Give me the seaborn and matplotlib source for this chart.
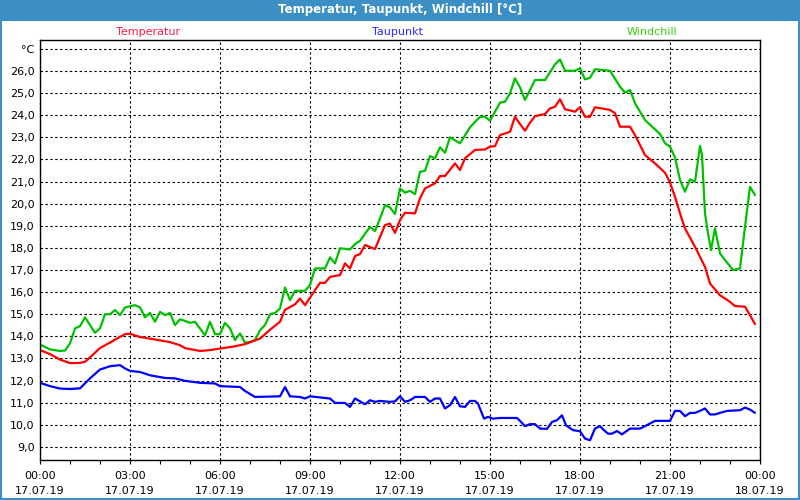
import matplotlib
matplotlib.use("Agg")
import matplotlib.pyplot as plt
import matplotlib.dates as mdates
from matplotlib.patches import Rectangle
from matplotlib.ticker import FixedLocator, FixedFormatter
import seaborn as sns
import pandas as pd

# ---------------- data (minutes after 17.07.19 00:00, °C) ----------------
temp_min = [0, 20, 40, 60, 80, 90, 100, 120, 140, 150, 170, 180, 200, 230, 260, 280, 290,
            320, 340, 360, 390, 410, 440, 460, 480, 490, 510, 520, 530, 550, 560, 570, 580,
            600, 610, 620, 630, 640, 650, 670, 690, 700, 710, 720, 730, 750, 760, 770, 790,
            800, 810, 830, 840, 850, 870, 890, 900, 910, 920, 940, 950, 960, 970, 980, 990,
            1010, 1020, 1030, 1040, 1050, 1070, 1080, 1090, 1100, 1110, 1120, 1140, 1150,
            1160, 1180, 1190, 1200, 1210, 1230, 1250, 1260, 1270, 1280, 1290, 1310, 1330,
            1340, 1360, 1380, 1390, 1410, 1420, 1430]
temp_val = [13.38, 13.2, 12.95, 12.79, 12.8, 12.85, 13.05, 13.47, 13.72, 13.85, 14.1, 14.12,
            13.97, 13.86, 13.74, 13.6, 13.47, 13.34, 13.38, 13.45, 13.55, 13.65, 13.9, 14.3,
            14.66, 15.2, 15.45, 15.71, 15.41, 16.09, 16.42, 16.42, 16.69, 16.77, 17.3, 17.07,
            17.63, 17.72, 18.13, 17.95, 19.03, 19.1, 18.68, 19.26, 19.59, 19.56, 20.24, 20.69,
            20.92, 21.25, 21.25, 21.82, 21.52, 22.05, 22.43, 22.45, 22.58, 22.6, 23.1, 23.25,
            23.93, 23.6, 23.3, 23.66, 23.96, 24.05, 24.31, 24.38, 24.72, 24.27, 24.16, 24.36,
            23.93, 23.93, 24.36, 24.32, 24.24, 24.09, 23.48, 23.48, 23.1, 22.65, 22.2, 21.82,
            21.4, 20.95, 20.31, 19.56, 18.88, 18.05, 17.14, 16.39, 15.86, 15.56, 15.37,
            15.34, 14.96, 14.55]

dew_min = [0, 20, 40, 60, 80, 100, 120, 140, 160, 170, 180, 200, 220, 250, 270, 290, 320,
           350, 360, 400, 410, 430, 480, 490, 500, 520, 530, 540, 580, 590, 610, 620, 630,
           650, 660, 670, 680, 700, 710, 720, 730, 740, 750, 770, 780, 790, 800, 810, 820,
           830, 840, 850, 860, 870, 876, 888, 896, 906, 920, 954, 960, 970, 980, 990, 1000,
           1014, 1024, 1034, 1044, 1052, 1066, 1080, 1090, 1100, 1110, 1120, 1126, 1136,
           1144, 1154, 1164, 1180, 1200, 1210, 1220, 1230, 1260, 1270, 1280, 1290, 1300,
           1310, 1320, 1330, 1340, 1350, 1360, 1374, 1400, 1410, 1420, 1430]
dew_val = [11.9, 11.75, 11.64, 11.62, 11.65, 12.1, 12.5, 12.65, 12.7, 12.55, 12.44, 12.39,
           12.24, 12.12, 12.1, 11.99, 11.9, 11.87, 11.75, 11.71, 11.53, 11.26, 11.29, 11.71,
           11.29, 11.26, 11.19, 11.29, 11.19, 10.99, 10.99, 10.81, 11.19, 10.93, 11.11,
           11.04, 11.08, 11.04, 11.06, 11.29, 11.04, 11.11, 11.26, 11.26, 11.04, 11.19,
           11.19, 10.74, 10.89, 11.26, 10.84, 10.81, 11.08, 11.08, 10.96, 10.28, 10.36,
           10.28, 10.31, 10.31, 10.18, 9.94, 10.03, 10.03, 9.83, 9.82, 10.13, 10.21, 10.43,
           9.98, 9.76, 9.71, 9.38, 9.30, 9.83, 9.94, 9.8, 9.6, 9.6, 9.72, 9.57, 9.83, 9.83,
           9.94, 10.06, 10.18, 10.18, 10.63, 10.63, 10.39, 10.54, 10.54, 10.63, 10.74,
           10.47, 10.47, 10.54, 10.63, 10.66, 10.78, 10.69, 10.54]

wind_min = [0, 20, 40, 50, 60, 70, 80, 90, 110, 120, 130, 140, 150, 160, 170, 190, 200, 210,
            220, 230, 240, 250, 260, 270, 280, 290, 300, 310, 330, 340, 350, 360, 370, 380,
            390, 400, 410, 420, 430, 440, 450, 460, 470, 480, 490, 500, 510, 530, 540, 550,
            570, 580, 590, 600, 620, 630, 640, 660, 670, 680, 690, 700, 710, 720, 730, 740,
            750, 760, 770, 780, 790, 800, 810, 820, 840, 860, 880, 890, 900, 910, 920, 930,
            940, 950, 960, 970, 980, 990, 1010, 1020, 1030, 1040, 1050, 1070, 1080, 1090,
            1100, 1110, 1140, 1160, 1170, 1180, 1190, 1210, 1230, 1240, 1250, 1260, 1270,
            1280, 1290, 1300, 1310, 1320, 1324, 1330, 1336, 1342, 1350, 1360, 1370, 1386,
            1400, 1410, 1420, 1430]
wind_val = [13.63, 13.41, 13.34, 13.36, 13.68, 14.36, 14.46, 14.86, 14.16, 14.36, 15.0, 15.0,
            15.19, 14.96, 15.31, 15.41, 15.31, 14.86, 15.06, 14.66, 15.11, 14.96, 15.06,
            14.51, 14.77, 14.7, 14.61, 14.66, 14.05, 14.66, 14.1, 14.1, 14.61, 14.36, 13.83,
            14.13, 13.71, 13.75, 13.83, 14.28, 14.51, 15.0, 15.06, 15.26, 16.21, 15.64,
            16.06, 16.06, 16.32, 17.07, 17.07, 17.57, 17.3, 17.98, 17.93, 18.17, 18.32,
            18.95, 18.76, 19.33, 19.94, 19.83, 19.53, 20.69, 20.5, 20.58, 20.43, 21.44,
            21.49, 22.15, 22.05, 22.55, 22.3, 23.0, 22.73, 23.45, 23.93, 23.93, 23.75, 24.16,
            24.57, 24.61, 24.99, 25.67, 25.26, 24.69, 25.14, 25.59, 25.59, 25.94, 26.3,
            26.52, 26.01, 26.01, 26.12, 25.62, 25.69, 26.08, 26.01, 25.29, 25.02, 25.14,
            24.54, 23.78, 23.36, 23.15, 22.73, 22.58, 22.09, 21.07, 20.54, 21.1, 20.99,
            22.61, 22.2, 19.56, 18.66, 17.9, 18.88, 17.75, 17.45, 17.0, 17.07, 18.95,
            20.76, 20.39]

series_names = ["Temperatur", "Taupunkt", "Windchill"]
title_text = "Temperatur, Taupunkt, Windchill [°C]"
y_ticks = list(range(9, 28))
y_labels = [f"{v},0" for v in range(9, 27)] + ["°C"]

# ---------------- build frames ----------------
base = pd.Timestamp("2019-07-17 00:00")
def frame(mins, vals):
    return pd.DataFrame({"t": base + pd.to_timedelta(mins, unit="m"), "v": vals})

df_temp = frame(temp_min, temp_val)
df_dew = frame(dew_min, dew_val)
df_wind = frame(wind_min, wind_val)

# ---------------- style ----------------
sns.set_theme(style="white")
plt.rcParams["font.family"] = ["DejaVu Sans"]

fig = plt.figure(figsize=(8, 5), dpi=100)
fig.patch.set_facecolor("white")
ax = fig.add_axes([0.05, 0.08, 0.90, 0.84])

line_red = "#ff0000"
line_blue = "#0000ff"
line_green = "#00c000"

sns.lineplot(data=df_wind, x="t", y="v", ax=ax, color=line_green, linewidth=1.6)
sns.lineplot(data=df_temp, x="t", y="v", ax=ax, color=line_red, linewidth=1.6)
sns.lineplot(data=df_dew, x="t", y="v", ax=ax, color=line_blue, linewidth=1.6)

ax.set_xlim(base, base + pd.Timedelta(hours=24))
ax.set_ylim(8.41, 27.4)
ax.set_xlabel("")
ax.set_ylabel("")

ax.xaxis.set_major_locator(mdates.HourLocator(interval=3))
ax.xaxis.set_major_formatter(mdates.DateFormatter("%H:%M\n%d.%m.%y"))
ax.xaxis.set_minor_locator(mdates.HourLocator(interval=1))
ax.yaxis.set_major_locator(FixedLocator(y_ticks))
ax.yaxis.set_major_formatter(FixedFormatter(y_labels))

ax.grid(True, which="major", color="black", linestyle=(0, (2.2, 2.2)), linewidth=0.8)
ax.tick_params(axis="x", which="both", direction="out", length=3, width=0.8,
               colors="black", labelsize=8, pad=5, bottom=True)
ax.tick_params(axis="y", which="both", length=0, labelsize=8, pad=4, colors="black",
               left=True)
for lab in ax.get_xticklabels():
    lab.set_linespacing(1.6)
for s in ax.spines.values():
    s.set_color("black")
    s.set_linewidth(1.0)
    s.set_visible(True)

# title bar and border
fig.patches.append(Rectangle((0, 1 - 20 / 500), 1, 20 / 500, transform=fig.transFigure,
                             facecolor="#3c8fc4", edgecolor="none", zorder=0))
fig.patches.append(Rectangle((0.0015, 0.003), 0.997, 1 - 0.003 - 20 / 500,
                             transform=fig.transFigure, facecolor="none",
                             edgecolor="#3c8fc4", linewidth=1.5, zorder=0))
fig.text(0.5, 1 - 10 / 500, title_text, color="white", fontsize=8.5, fontweight="bold",
         ha="center", va="center")

legend_colors = ["#ff1a40", "#2a2aff", "#3ccc10"]
legend_x = [148 / 800, 398 / 800, 652 / 800]
for name, c, x in zip(series_names, legend_colors, legend_x):
    fig.text(x, 1 - 32 / 500, name, color=c, fontsize=8, ha="center", va="center")

fig.savefig("out.png", dpi=100)
